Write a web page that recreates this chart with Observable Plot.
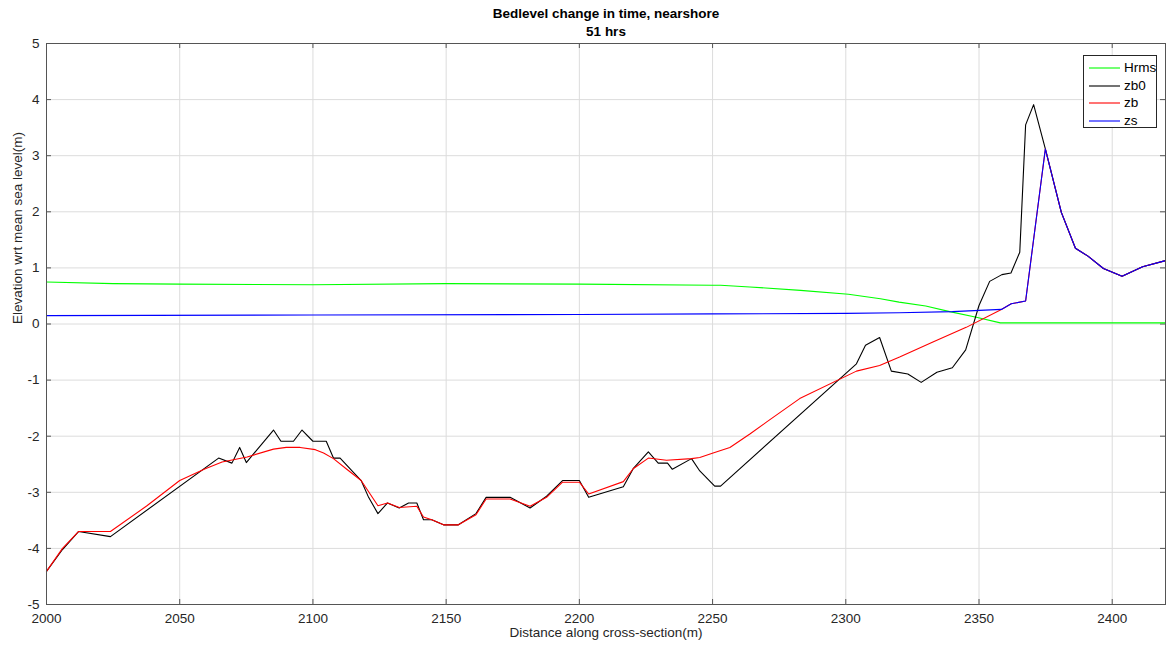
<!DOCTYPE html>
<html>
<head>
<meta charset="utf-8">
<script src="https://cdn.jsdelivr.net/npm/d3@7"></script>
<script src="https://cdn.jsdelivr.net/npm/@observablehq/plot@0.6"></script>
<style>
  html, body { margin: 0; padding: 0; background: #fff; }
  body { width: 1166px; height: 650px; position: relative; overflow: hidden; font-family: "Liberation Sans", Arial, sans-serif; }
  #title { position: absolute; left: 0; top: 0; width: 1212px; height: 40px; text-align: center; color: #000; font-weight: bold; font-size: 13.5px; line-height: 18px; padding-top: 5px; box-sizing: border-box; z-index: 0; }
  #chart { position: absolute; left: 0; top: 40px; z-index: 1; }
  #chart svg { overflow: visible; }
  #legend { position: absolute; left: 1083px; top: 55px; width: 74px; height: 73px; border: 1px solid #262626; background: #fff; box-sizing: border-box; font-size: 13.5px; color: #000; z-index: 2; }
  #legend .row { position: absolute; left: 3px; height: 18px; line-height: 18px; }
  #legend .row svg { position: absolute; left: 0; top: 0; }
  #legend .row span { position: absolute; left: 37px; top: 0; }
</style>
</head>
<body>
<div id="title">Bedlevel change in time, nearshore<br>51 hrs</div>
<div id="chart"></div>
<div id="legend"></div>
<script>
// ---- data ----
const hrmsX = [2000, 2025, 2050, 2100, 2150, 2200, 2250, 2253, 2264, 2283, 2301, 2313, 2320, 2330, 2339, 2349, 2358, 2420];
const hrmsY = [0.75, 0.72, 0.71, 0.70, 0.72, 0.71, 0.69, 0.69, 0.66, 0.60, 0.53, 0.45, 0.39, 0.32, 0.22, 0.12, 0.02, 0.02];

const zb0X = [2000, 2006, 2012, 2024, 2064.6, 2069.6, 2072.5, 2075, 2085.2, 2088, 2092.7, 2095.9, 2100, 2105, 2107.7, 2110.2, 2118.1, 2120.9, 2124.4, 2128, 2132.4, 2135.9, 2139, 2141.5, 2144.6, 2149, 2154.6, 2161.2, 2165, 2174, 2181.5, 2187.7, 2193.7, 2200, 2203.5, 2216.5, 2220.2, 2225.9, 2229.6, 2233.1, 2234.9, 2242.1, 2245.2, 2250.8, 2253, 2304, 2307.4, 2312.7, 2317.1, 2323.3, 2328.3, 2334.2, 2340, 2345, 2350, 2354, 2358.6, 2362, 2365.3, 2367.5, 2370.5, 2374.9, 2380.9, 2386.2, 2390.9, 2396.7, 2403.7, 2411.4, 2420];
const zb0Y = [-4.41, -4.02, -3.70, -3.79, -2.39, -2.48, -2.20, -2.47, -1.89, -2.09, -2.09, -1.89, -2.09, -2.09, -2.39, -2.39, -2.79, -3.09, -3.38, -3.19, -3.28, -3.19, -3.19, -3.49, -3.49, -3.58, -3.58, -3.38, -3.09, -3.09, -3.28, -3.07, -2.79, -2.79, -3.09, -2.90, -2.58, -2.28, -2.48, -2.48, -2.59, -2.40, -2.62, -2.89, -2.89, -0.71, -0.38, -0.24, -0.84, -0.89, -1.04, -0.86, -0.78, -0.46, 0.33, 0.76, 0.88, 0.91, 1.28, 3.55, 3.91, 3.12, 1.99, 1.35, 1.21, 0.99, 0.85, 1.02, 1.13];

const zbX = [2000, 2006, 2012, 2024, 2037.7, 2050, 2059.6, 2065.9, 2075.3, 2085.2, 2090, 2095.2, 2100.9, 2104, 2107.7, 2112.7, 2118.1, 2124.4, 2128, 2132.4, 2139, 2141.5, 2144.6, 2149, 2154.6, 2161.2, 2165, 2174, 2181.5, 2187.7, 2193.7, 2200, 2203.5, 2216.5, 2220.2, 2225.9, 2232.7, 2242.1, 2245.2, 2250.2, 2256.5, 2264, 2270.2, 2282.7, 2304, 2312.7, 2320.2, 2332.7, 2345.2, 2358.4, 2362.1, 2367.5, 2374.9, 2380.9, 2386.2, 2390.9, 2396.7, 2403.7, 2411.4, 2420];
const zbY = [-4.41, -4.00, -3.70, -3.70, -3.24, -2.79, -2.58, -2.46, -2.37, -2.23, -2.20, -2.20, -2.24, -2.30, -2.40, -2.59, -2.79, -3.24, -3.19, -3.27, -3.25, -3.44, -3.49, -3.58, -3.58, -3.40, -3.12, -3.12, -3.25, -3.09, -2.82, -2.82, -3.03, -2.81, -2.58, -2.39, -2.43, -2.40, -2.38, -2.30, -2.20, -1.96, -1.75, -1.33, -0.84, -0.74, -0.59, -0.32, -0.06, 0.26, 0.36, 0.41, 3.12, 1.99, 1.35, 1.21, 0.99, 0.85, 1.02, 1.13];

const zsX = [2000, 2100, 2200, 2250, 2300, 2320, 2340, 2358.4, 2362.1, 2367.5, 2374.9, 2380.9, 2386.2, 2390.9, 2396.7, 2403.7, 2411.4, 2420];
const zsY = [0.15, 0.16, 0.17, 0.18, 0.19, 0.20, 0.22, 0.26, 0.36, 0.41, 3.12, 1.99, 1.35, 1.21, 0.99, 0.85, 1.02, 1.13];

const xTicks = [2000, 2050, 2100, 2150, 2200, 2250, 2300, 2350, 2400];
const yTicks = [-5, -4, -3, -2, -1, 0, 1, 2, 3, 4, 5];
const xDomain = [2000, 2420];
const yDomain = [-5, 5];

const seriesNames = ["Hrms", "zb0", "zb", "zs"];
const seriesColors = ["#00ff00", "#000000", "#ff0000", "#0000ff"];

// ---- build ----
const toRows = (xs, ys) => xs.map((x, i) => ({x, y: ys[i]}));
const series = [
  toRows(hrmsX, hrmsY),
  toRows(zb0X, zb0Y),
  toRows(zbX, zbY),
  toRows(zsX, zsY)
];

const W = 1166, H = 610, mL = 46, mR = 1, mT = 3, mB = 46;
const tickPx = 5;
const yPer = (H - mT - mB) / (yDomain[1] - yDomain[0]);
const xPer = (W - mL - mR) / (xDomain[1] - xDomain[0]);
const tY = tickPx / yPer, tX = tickPx / xPer;
const axisColor = "#262626";
const frameColor = "#555555";

const plot = Plot.plot({
  width: W, height: H,
  marginLeft: mL, marginRight: mR, marginTop: mT, marginBottom: mB,
  style: {fontFamily: "'Liberation Sans', Arial, sans-serif", fontSize: "13.5px", color: axisColor, background: "transparent", overflow: "visible"},
  x: {domain: xDomain, ticks: xTicks, tickSize: 0, tickPadding: 9, tickFormat: d => String(d), label: null},
  y: {domain: yDomain, ticks: yTicks, tickSize: 0, tickPadding: 7, tickFormat: d => String(d), label: null},
  marks: [
    Plot.ruleX(xTicks, {stroke: "#dcdcdc", strokeWidth: 1}),
    Plot.ruleY(yTicks, {stroke: "#dcdcdc", strokeWidth: 1}),
    // inward ticks on all four sides
    Plot.ruleX(xTicks, {y1: yDomain[0], y2: yDomain[0] + tY, stroke: frameColor}),
    Plot.ruleX(xTicks, {y1: yDomain[1], y2: yDomain[1] - tY, stroke: frameColor}),
    Plot.ruleY(yTicks, {x1: xDomain[0], x2: xDomain[0] + tX, stroke: frameColor}),
    Plot.ruleY(yTicks, {x1: xDomain[1], x2: xDomain[1] - tX, stroke: frameColor}),
    ...series.map((rows, i) => Plot.line(rows, {x: "x", y: "y", stroke: seriesColors[i], strokeWidth: 1.1})),
    Plot.frame({stroke: frameColor, strokeWidth: 1}),
    Plot.text(["Distance along cross-section(m)"], {frameAnchor: "bottom", dy: 32, fontSize: 13.5, fill: axisColor}),
    Plot.text(["Elevation wrt mean sea level(m)"], {frameAnchor: "left", dx: -29, rotate: -90, fontSize: 13.5, fill: axisColor})
  ]
});
plot.style.overflow = "visible";
document.getElementById("chart").appendChild(plot);

// legend
const leg = document.getElementById("legend");
seriesNames.forEach((name, i) => {
  const row = document.createElement("div");
  row.className = "row";
  row.style.top = (3 + i * 17.5) + "px";
  row.innerHTML = `<svg width="34" height="18"><line x1="2" y1="9" x2="33" y2="9" stroke="${seriesColors[i]}" stroke-width="1.1"/></svg><span>${name}</span>`;
  leg.appendChild(row);
});
</script>
</body>
</html>
